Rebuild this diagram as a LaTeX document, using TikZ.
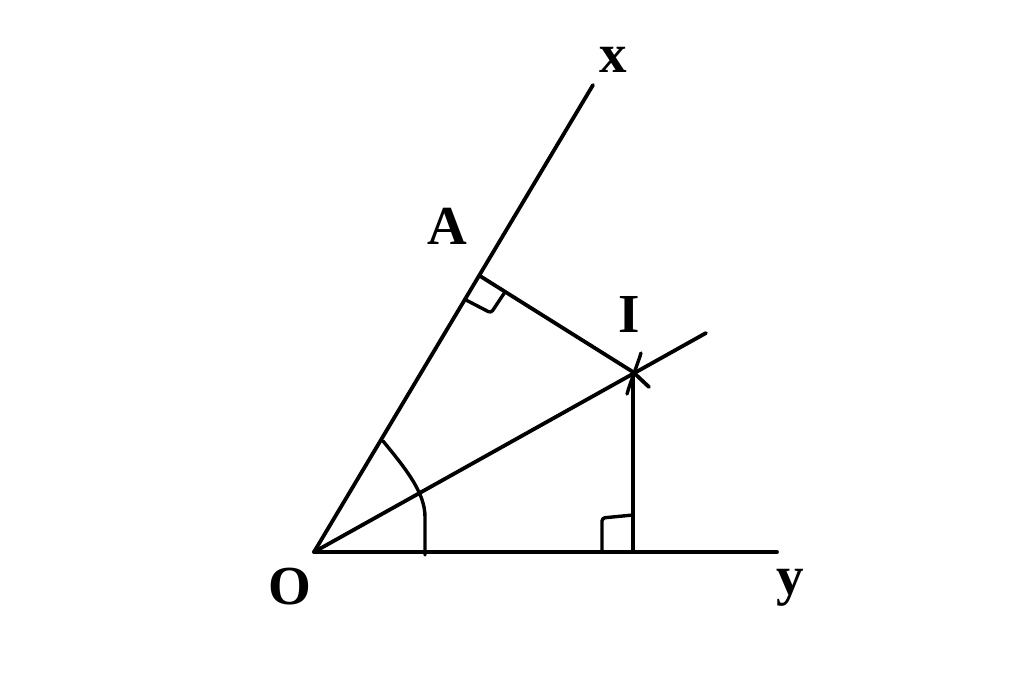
\documentclass[tikz,border=0pt]{standalone}
\usepackage{fontspec}
\setmainfont{Liberation Serif}
\begin{document}
\begin{tikzpicture}[x=1pt,y=-1pt,
  seg/.style={line width=3.8pt,line cap=round,line join=round},
  tick/.style={line width=3.4pt,line cap=round,line join=round,rounded corners=3pt},
  lbl/.style={anchor=base,inner sep=0pt,font=\fontsize{55}{60}\selectfont\bfseries}]
\useasboundingbox (0,0) rectangle (1024,687);
% points
\coordinate (O) at (314,552);
\coordinate (X) at (593,85);
\coordinate (Y) at (777,552);
\coordinate (B) at (706,333);
\coordinate (I) at (633,372);
\coordinate (Ie) at (649,387);
\coordinate (A) at (480,276);
\coordinate (H) at (633,552);
% rays
\draw[seg] (O) -- (X);
\draw[seg] (O) -- (Y);
\draw[seg] (O) -- (B);
% perpendiculars
\draw[seg] (A) -- (I) -- (Ie);
\draw[seg] (H) -- (I);
% arc mark at I
\coordinate (Ia) at (641,353);
\coordinate (Ib) at (627,394);
\draw[tick] (Ia) .. controls (637,366) and (631,380) .. (Ib);
% right angle at A
\coordinate (Ra1) at (466,300);
\coordinate (Ra2) at (491,313);
\coordinate (Ra3) at (505,292);
\draw[tick] (Ra1) -- (Ra2) -- (Ra3);
% right angle at H
\coordinate (Rh1) at (602,552);
\coordinate (Rh2) at (602,518);
\coordinate (Rh3) at (633,515);
\draw[tick] (Rh1) -- (Rh2) -- (Rh3);
% angle arc at O
\coordinate (Ar1) at (383,441);
\coordinate (Ar2) at (425,555);
\draw[tick] (Ar1) .. controls (405,468) and (425,492) .. (425,520) -- (Ar2);
% labels
\node[lbl] (lx) at (613,73) {x};
\node[lbl] (lA) at (447,244) {A};
\node[lbl] (lI) at (629,332) {I};
\node[lbl] (lO) at (289.5,604) {O};
\node[lbl] (ly) at (790,594) {y};
\end{tikzpicture}
\end{document}
